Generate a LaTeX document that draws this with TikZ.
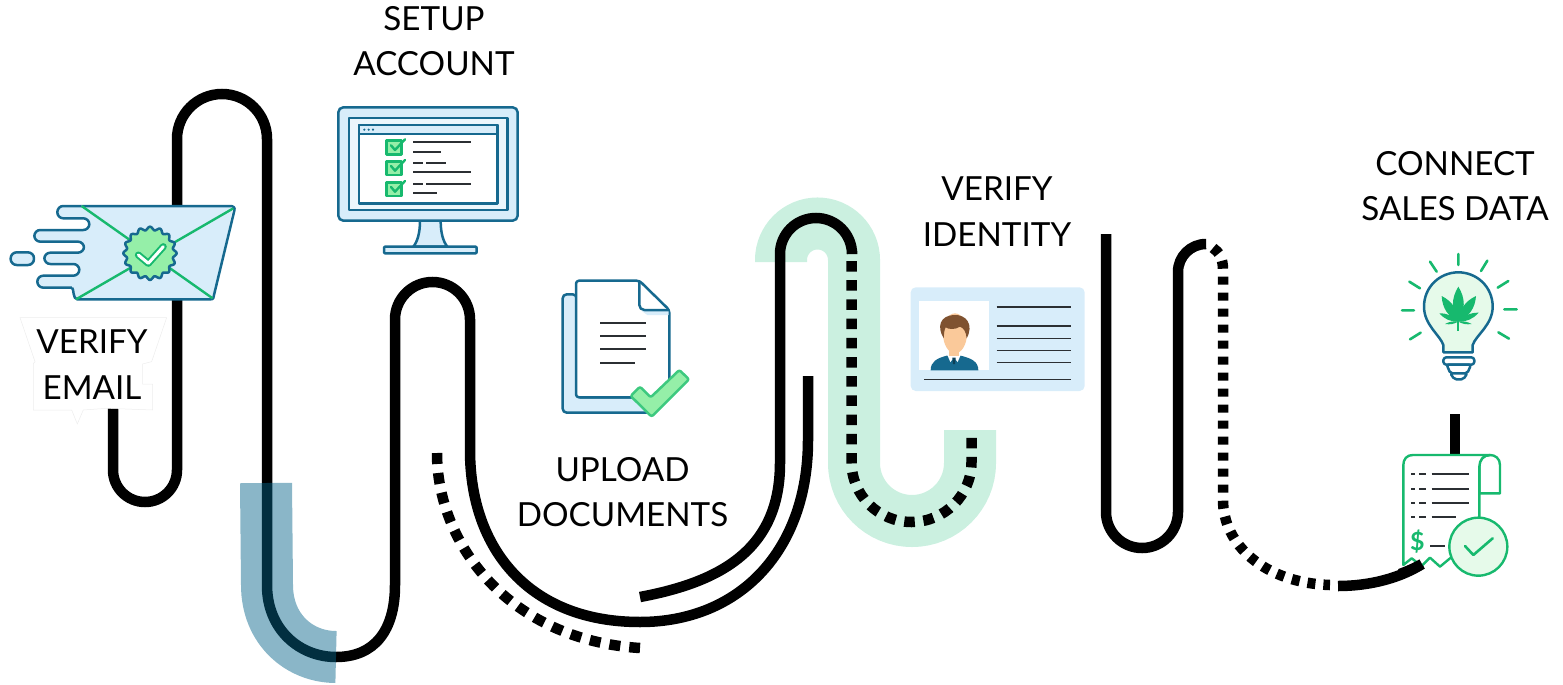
\documentclass[tikz,border=0pt]{standalone}
\usepackage{fontspec}
\setmainfont{Lato}
\definecolor{ink}{HTML}{16698F}
\definecolor{pale}{HTML}{D8EDFA}
\definecolor{grn}{HTML}{17B96E}
\definecolor{lgrn}{HTML}{95EFA8}
\definecolor{mint}{HTML}{CBF0E0}
\definecolor{vpale}{HTML}{E6FAEA}
\definecolor{tealb}{RGB}{6,100,138}
\definecolor{txtl}{HTML}{2B2F33}
\definecolor{skin}{HTML}{FAC99A}
\definecolor{hair}{HTML}{7F5230}
\tikzset{
 track/.style={line width=10.5pt,black},
 dots/.style={line width=10.5pt,black,dash pattern=on 10.5pt off 8.7pt},
 lab/.style={font=\fontsize{33.2}{45.5}\selectfont,align=center,text=black,inner sep=0pt},
 ol/.style={draw=ink,line width=2.5pt,line join=round},
 gl/.style={draw=grn,line width=2.4pt,line join=round},
 tl/.style={draw=txtl,line width=2pt},
 zoomed/.style={x=0.33333pt,y=-0.33333pt},
}
\begin{document}
\begin{tikzpicture}[x=1pt,y=-1pt]
\useasboundingbox (0,0) rectangle (1563,685);
% bands
\draw[line width=52pt,mint] (781,262) -- (781,260) arc[start angle=180,end angle=360,radius=36.5] -- (854,463) arc[start angle=180,end angle=0,radius=58] -- (970,430);
% tracks
\draw[track] (113,400) -- (113,470) arc[start angle=180,end angle=0,radius=32] -- (177,139) arc[start angle=180,end angle=360,radius=45] -- (267,585) .. controls (267,630) and (300,657) .. (336,657) .. controls (375,657) and (395,630) .. (395,585) -- (395,319.5) arc[start angle=180,end angle=360,radius=37.5] -- (470,450) .. controls (470,550) and (530,622) .. (640,622) .. controls (740,622) and (808,550) .. (808,440) -- (808,376);
\draw[track] (640,597) .. controls (720,582) and (780,550) .. (780,463) -- (780,254) arc[start angle=180,end angle=360,radius=36] -- (852,251);
\draw[dots] (851.5,261) -- (851.5,462) arc[start angle=180,end angle=0,radius=60] -- (971.5,430);
\draw[dots,dash pattern=on 11pt off 9pt] (437,453) .. controls (437,545) and (510,640) .. (640,648);
\draw[track] (1106,234) -- (1106,512) arc[start angle=180,end angle=0,radius=36] -- (1178,272) arc[start angle=180,end angle=270,radius=28] -- (1205,244);
\draw[dots,dash pattern=on 8pt off 8pt] (1213,248) .. controls (1219,252) and (1223,258) .. (1223,270) -- (1223,500) .. controls (1223,545) and (1265,583) .. (1330,585);
\draw[track] (1338,586) .. controls (1370,586) and (1400,578) .. (1422,564);
\draw[track] (1455,414) -- (1455,456);
\draw[line width=52pt,tealb,opacity=.47] (266,483) -- (267,585) .. controls (267,630) and (300,657) .. (336,657);
% verify email halo
\begin{scope}[shift={(0,180)},zoomed]
\draw[fill=white,draw=black!7,line width=.5pt] (60,413) -- (500,413) -- (455,545) -- (428,552) -- (428,612) -- (458,612) -- (458,690) -- (320,685) -- (250,690) -- (232,732) -- (215,690) -- (100,690) -- (100,550) -- (105,545) -- cycle;
% envelope
\path[fill=pale,rounded corners=6pt] (245,78) -- (172,78) -- (172,115) -- (268,115) -- (268,150) -- (103,150) -- (103,185) -- (252,185) -- (252,218) -- (133,218) -- (133,252) -- (238,252) -- (238,287) -- (112,287) -- (112,323) -- (216,323) -- (228,358) -- (640,358) -- (700,78) -- cycle;
\draw[ol,rounded corners=6pt] (245,78) -- (172,78) -- (172,115) -- (268,115) -- (268,150) -- (103,150) -- (103,185) -- (252,185) -- (252,218) -- (133,218) -- (133,252) -- (238,252) -- (238,287) -- (112,287) -- (112,323) -- (216,323);
\draw[ol] (216,323) .. controls (222,326) and (218,358) .. (232,358) -- (632,358) .. controls (642,358) and (640,352) .. (642,345) -- (703,92) .. controls (706,82) and (700,78) .. (690,78) -- (245,78);
\draw[ol,fill=pale,rounded corners=6pt] (32,217) rectangle (102,255);
\draw[gl] (245,78) -- (638,355) (228,358) -- (700,85);
\draw[ol,fill=lgrn] plot[domain=0:360,samples=145,smooth] ({450+(75+5*cos(16*\x))*cos(\x)},{220+(75+5*cos(16*\x))*sin(\x)}) -- cycle;
\draw[grn,line width=7pt,line join=round,line cap=round] (415,225) -- (445,250) -- (490,200);
\draw[white,line width=3pt,line join=round,line cap=round] (415,225) -- (445,250) -- (490,200);
\end{scope}
% monitor
\begin{scope}[shift={(320,90)},zoomed]
\draw[ol,fill=pale] (300,392) -- (362,392) .. controls (362,430) and (370,455) .. (382,470) -- (280,470) .. controls (292,455) and (300,430) .. (300,392) -- cycle;
\draw[ol,fill=pale,rounded corners=1pt] (192,470) rectangle (470,490);
\draw[ol,fill=pale,rounded corners=5pt] (55,52) rectangle (593,392);
\draw[ol,fill=pale!50!white] (87,84) rectangle (562,360);
\draw[ol,fill=white] (117,105) rectangle (532,340);
\draw[ol,fill=pale] (117,105) rectangle (532,132);
\foreach \a in {133,146,159} \fill[ink] (\a,119) circle (3.6);
\foreach \b in {152,214,277}{
\draw[gl,fill=lgrn] (200,\b) rectangle (245,\b+41);
\draw[gl,line cap=round] (213,\b+14) -- (225,\b+28) -- (255,\b-4);
}
\draw[tl] (280,157) -- (452,157) (280,186) -- (362,186) (280,218) -- (310,218) (318,218) -- (377,218) (280,247) -- (452,247) (280,282) -- (310,282) (318,282) -- (452,282) (280,310) -- (352,310);
\end{scope}
% documents
\begin{scope}[shift={(540,260)},zoomed]
\draw[ol,fill=pale,rounded corners=4pt] (110,103) -- (68,103) -- (68,458) -- (330,458) -- (330,412) -- (110,412) -- cycle;
\draw[ol,fill=white,rounded corners=3pt] (108,62) -- (298,62) -- (388,150) -- (388,412) -- (108,412) -- cycle;
\fill[pale] (305,153) -- (386,153) -- (386,165) -- (322,165) -- cycle;
\draw[ol,rounded corners=5pt] (298,62) -- (298,150) -- (388,150);
\draw[tl] (180,190) -- (318,190) (180,229) -- (318,229) (180,268) -- (318,268) (180,308) -- (285,308);
\draw[draw=grn!70!lgrn,fill=lgrn,line width=2.5pt,line join=round,rounded corners=2pt] (272,408) -- (300,380) -- (332,412) -- (418,330) -- (447,358) -- (335,470) -- cycle;
\end{scope}
% id card
\begin{scope}[shift={(740,190)},zoomed]
\fill[pale,rounded corners=5pt] (512,292) rectangle (1034,603);
\fill[white] (537,332) rectangle (747,541);
\fill[ink] (572,541) .. controls (572,515) and (590,505) .. (620,497) -- (662,497) .. controls (695,505) and (715,515) .. (715,541) -- cycle;
\fill[white] (622,495) -- (662,495) -- (653,516) -- (642,503) -- (631,516) -- cycle;
\fill[black!40!ink] (637,503) -- (647,503) -- (645,522) -- (639,522) -- cycle;
\fill[skin] (626,450) rectangle (658,498);
\fill[skin] (645,430) ellipse (36 and 60);
\fill[hair] (611,445) .. controls (590,410) and (600,378) .. (640,375) .. controls (680,372) and (702,405) .. (680,445) .. controls (678,425) and (672,415) .. (660,410) .. controls (645,420) and (625,418) .. (617,412) .. controls (612,420) and (612,435) .. (611,445) -- cycle;
\draw[txtl,line width=1.6pt] (770,351) -- (994,351) (770,408) -- (994,408) (770,445) -- (994,445) (770,482) -- (994,482) (770,518) -- (994,518) (552,568) -- (994,568);
\end{scope}
% bulb
\begin{scope}[shift={(1390,240)},zoomed]
\draw[grn,line width=2.6pt,line cap=round] (205,42) -- (205,75) (120,65) -- (140,95) (58,125) -- (90,145) (36,211) -- (72,211) (60,298) -- (92,278) (292,62) -- (273,93) (355,123) -- (323,143) (380,208) -- (343,208) (357,296) -- (325,277);
\draw[ol,fill=vpale] (160,337) -- (160,315) .. controls (150,285) and (102,255) .. (102,200) .. controls (102,140) and (150,97) .. (205,97) .. controls (260,97) and (308,140) .. (308,200) .. controls (308,255) and (258,285) .. (248,315) -- (248,337) -- cycle;
\draw[ol,fill=white,rounded corners=3pt] (160,352) -- (253,352) -- (253,374) -- (160,374) -- cycle;
\draw[ol,fill=white,rounded corners=2pt] (170,374) -- (243,374) -- (232,400) -- (181,400) -- cycle;
\draw[ol,fill=white,rounded corners=2pt] (181,400) -- (232,400) -- (220,418) -- (193,418) -- cycle;
\foreach \tx/\ty/\bd in {205/140/32,155/168/30,258/168/30,148/220/24,266/218/24,165/252/18,245/252/18}
 \fill[grn] (205,245) to[bend left=\bd] (\tx,\ty) to[bend left=\bd] (205,245);
\draw[grn,line width=2pt] (205,240) -- (205,272);
\end{scope}
% receipt
\begin{scope}[shift={(1390,410)},zoomed]
\draw[gl,fill=white] (268,250) -- (330,250) -- (330,165) .. controls (330,145) and (315,135) .. (300,135) .. controls (280,135) and (268,150) .. (268,170) -- cycle;
\draw[gl,fill=white] (300,135) -- (68,135) .. controls (50,135) and (40,148) .. (40,165) -- (40,465) -- (65,445) -- (95,468) -- (120,443) -- (150,470) -- (180,445) -- (268,400) -- (268,170) .. controls (268,150) and (280,135) .. (300,135);
\draw[txtl,line width=2.2pt] \foreach \r in {192,238,280}{(64,\r) -- (76,\r) (88,\r) -- (108,\r) (125,\r) -- (238,\r)} (64,321) -- (76,321) (88,321) -- (108,321) (125,321) -- (197,321) (120,408) -- (164,408);
\node[text=grn,font=\fontsize{25}{25}\selectfont\bfseries,inner sep=0pt] (dollar) at (82,395) {\$};
\draw[gl,fill=vpale] (265,410) circle (87);
\draw[gl,line width=2.6pt,line cap=round] (225,408) -- (250,435) -- (308,385);
\end{scope}
% black over receipt
\draw[track] (1400,574) .. controls (1408,571) and (1415,568) .. (1422,564);
% labels
\node[lab] (l1) at (92,364.8) {VERIFY\\EMAIL};
\node[lab] (l2) at (434,41) {SETUP\\ACCOUNT};
\node[lab] (l3) at (622.5,492) {UPLOAD\\DOCUMENTS};
\node[lab] (l4) at (997,211.5) {VERIFY\\IDENTITY};
\node[lab] (l5) at (1455,186) {CONNECT\\SALES DATA};
\end{tikzpicture}
\end{document}
